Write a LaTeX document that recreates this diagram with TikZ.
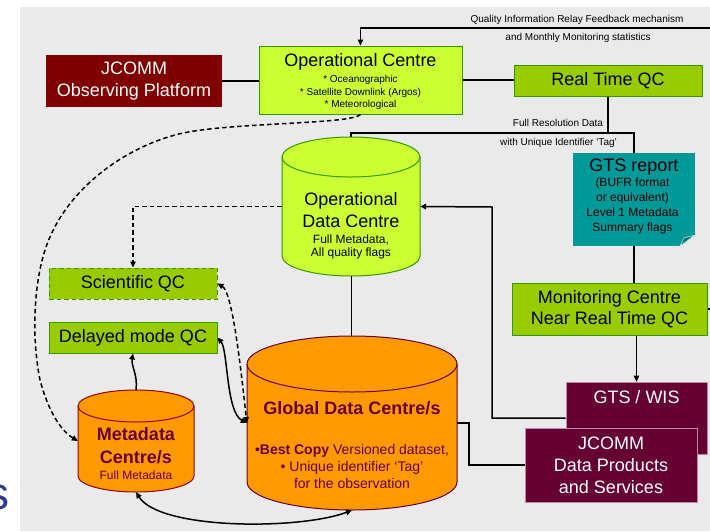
\documentclass[tikz,border=0pt]{standalone}
\usepackage{fontspec}
\setmainfont{Liberation Sans}
\usetikzlibrary{arrows.meta}
\definecolor{bggrey}{HTML}{EAEAEA}
\definecolor{limec}{HTML}{CCFF33}
\definecolor{qcgreen}{HTML}{99CC00}
\definecolor{bordergreen}{HTML}{339900}
\definecolor{darkredc}{HTML}{800000}
\definecolor{tealc}{HTML}{009999}
\definecolor{maroonc}{HTML}{660033}
\definecolor{orangec}{HTML}{FF9900}
\definecolor{mdborder}{HTML}{990000}
\definecolor{sblue}{HTML}{2E3D91}
\newcommand\fsz[2]{\fontsize{#1}{#2}\selectfont}
\tikzset{
  boxnode/.style={inner sep=0, align=center},
  greenbox/.style={boxnode, fill=qcgreen, draw=bordergreen, line width=1pt},
  maroonbox/.style={boxnode, fill=maroonc, draw=maroonc!45!white, line width=0.6pt, text=white},
  conn/.style={line width=1.5pt, black},
  thinconn/.style={line width=1pt, black},
  dashline/.style={dash pattern=on 4.5pt off 3pt},
  arr/.style={-{Triangle[length=6pt,width=5.5pt]}},
  darr/.style={{Triangle[length=6pt,width=5.5pt]}-{Triangle[length=6pt,width=5.5pt]}},
  title/.style={font=\fsz{18}{22}, align=center, inner sep=0},
  small/.style={font=\fsz{10}{12}, inner sep=0},
}
\begin{document}
\begin{tikzpicture}[x=1pt,y=-1pt]
\useasboundingbox (0,0) rectangle (710,531);
\fill[white] (0,0) rectangle (710,531);
\fill[bggrey] (20,7) rectangle (710,531);

% fragment of a title at the left edge
\node[anchor=base east, inner sep=0, text=sblue, font=\fsz{46}{46}] (sfrag) at (10,509) {s};

% ---------- boxes ----------
\node[boxnode, fill=darkredc, minimum width=176, minimum height=52, text=white, font=\fsz{18}{22}] (jop) at (134,81) {JCOMM\\Observing Platform};

\node[greenbox, fill=limec, minimum width=203, minimum height=68] (opc) at (360.5,80) {};
\node[title] (opct) at (360.5,62) {Operational Centre};
\node[font=\fsz{10}{12.5}, align=center, inner sep=0] (opcs) at (360.5,92.5) {* Oceanographic\\* Satellite Downlink (Argos)\\* Meteorological};

\node[greenbox, minimum width=188, minimum height=31, font=\fsz{18}{22}] (rtqc) at (608,80.5) {Real Time QC};

\node[boxnode, fill=tealc, minimum width=122, minimum height=93] (gts) at (634,199.5) {};
\fill[bggrey] (695.2,235) -- (695.2,246.2) -- (680,246.2) -- cycle;
\draw[fill=tealc!75!black, draw=white!75!tealc, line width=0.6pt] (680,246) -- (684,238) -- (695,235) -- cycle;
\node[title] (gtst) at (634,167) {GTS report};
\node[font=\fsz{12}{15}, align=center, inner sep=0] (gtss) at (632.5,206) {(BUFR format\\or equivalent)\\Level 1 Metadata\\Summary flags};

\node[greenbox, minimum width=195, minimum height=52, font=\fsz{18}{21}] (mon) at (609.5,309) {Monitoring Centre\\Near Real Time QC};

\node[maroonbox, minimum width=141, minimum height=72] (wis) at (636.5,418) {};
\node[title, text=white] (wist) at (636.5,397) {GTS / WIS};

\node[maroonbox, minimum width=172, minimum height=74, font=\fsz{18}{22}] (jdp) at (611,465) {JCOMM\\Data Products\\and Services};

\node[greenbox, dashline, minimum width=168, minimum height=31, font=\fsz{18}{22}] (sqc) at (133,283.5) {Scientific QC};
\node[greenbox, minimum width=168, minimum height=31, font=\fsz{18}{22}] (dqc) at (133,337.5) {Delayed mode QC};

% ---------- cylinders ----------
% Operational Data Centre
\draw[fill=limec, draw=bordergreen, line width=1pt] (282,157) -- (282,256) arc[start angle=180, end angle=0, x radius=69, y radius=20] -- (420,157) arc[start angle=0, end angle=-180, x radius=69, y radius=20] -- cycle;
\draw[bordergreen, line width=1pt] (282,157) arc[start angle=180, end angle=0, x radius=69, y radius=20];
\node[boxnode, minimum width=138, minimum height=139] (odc) at (351,206.5) {};
\node[title] (odct) at (351,210) {Operational\\Data Centre};
\node[font=\fsz{12}{13}, align=center, inner sep=0] (odcs) at (351,246.5) {Full Metadata,\\All quality flags};

% Global Data Centre
\draw[fill=orangec, draw=maroonc, line width=1pt] (247,364) -- (247,482) arc[start angle=180, end angle=0, x radius=105, y radius=28] -- (457,364) arc[start angle=0, end angle=-180, x radius=105, y radius=28] -- cycle;
\draw[maroonc, line width=1pt] (247,364) arc[start angle=180, end angle=0, x radius=105, y radius=28];
\node[boxnode, minimum width=210, minimum height=174] (gdc) at (352,423) {};
\node[font=\bfseries\fsz{18}{22}, text=maroonc, inner sep=0] (gdct) at (352,408) {Global Data Centre/s};
\node[font=\fsz{14}{17}, text=maroonc, align=center, inner sep=0] (gdcs) at (352,466) {•\textbf{Best Copy} Versioned dataset,\\• Unique identifier ‘Tag’\\for the observation};

% Metadata Centre
\draw[fill=orangec, draw=mdborder, line width=1pt] (78,406) -- (78,476) arc[start angle=180, end angle=0, x radius=58, y radius=16] -- (194,406) arc[start angle=0, end angle=-180, x radius=58, y radius=16] -- cycle;
\draw[mdborder, line width=1pt] (78,406) arc[start angle=180, end angle=0, x radius=58, y radius=16];
\node[boxnode, minimum width=116, minimum height=102] (md) at (136,441) {};
\node[font=\bfseries\fsz{18}{23}, text=maroonc, align=center, inner sep=0] (mdt) at (136,445.5) {Metadata\\Centre/s};
\node[font=\fsz{12}{13}, text=maroonc, inner sep=0] (mds) at (136,475) {Full Metadata};

% ---------- labels ----------
\node[small] (fb1) at (577,20) {Quality Information Relay Feedback mechanism};
\node[small] (fb2) at (578,38) {and Monthly Monitoring statistics};
\node[small] (fr1) at (558,123) {Full Resolution Data};
\node[small] (fr2) at (558.5,143) {with Unique Identifier ‘Tag’};

% ---------- connectors ----------
\coordinate (fbR) at (710,28);
\coordinate (monR) at (710,309);
\coordinate (split) at (608,133);
\coordinate (turn1) at (492,207);
\coordinate (turn2) at (469,423);

\draw[conn] (jop.east) -- (jop.east -| opc.west);
\draw[conn] (opc.east) -- (opc.east -| rtqc.west);
\draw[conn, arr] (fbR) -| (opc.north);
\draw[conn] (rtqc.south) -- (split);
\draw[conn] (split) -| (odc.north);
\draw[conn] (split) -| (gts.north);
\draw[conn] (gts.south) -- (gts.south |- mon.north);
\draw[conn] (mon.east) -- (monR);
\draw[conn, arr] (wis.north |- mon.south) -- (wis.north);
\draw[conn, arr] (wis.west) -| (turn1) -- (odc.east);
\draw[thinconn] (odc.south) -- (odc.south |- gdc.north);
\draw[conn, line width=1.2pt] (gdc.east) -- (turn2) |- (jdp.west);
\draw[conn, dashline, arr] (odc.west) -| (sqc.north);
\draw[conn, arr] (md.north) .. controls (138,375) and (131,366) .. (dqc.south);
\draw[conn, dashline, arr] (opc.south) .. controls (350,125) and (220,122) .. (175,135)
   .. controls (120,150) and (70,190) .. (50,237)
   .. controls (35,270) and (30,330) .. (40,380)
   .. controls (48,410) and (60,430) .. (md.west);
\draw[conn, dashline, darr] (sqc.east) .. controls (232,292) and (240,360) .. (gdc.west);
\draw[conn, darr] (dqc.east) .. controls (228,350) and (226,412) .. (gdc.west);
\draw[conn, darr] (md.south) .. controls (160,530) and (300,530) .. (gdc.south);
\end{tikzpicture}
\end{document}
